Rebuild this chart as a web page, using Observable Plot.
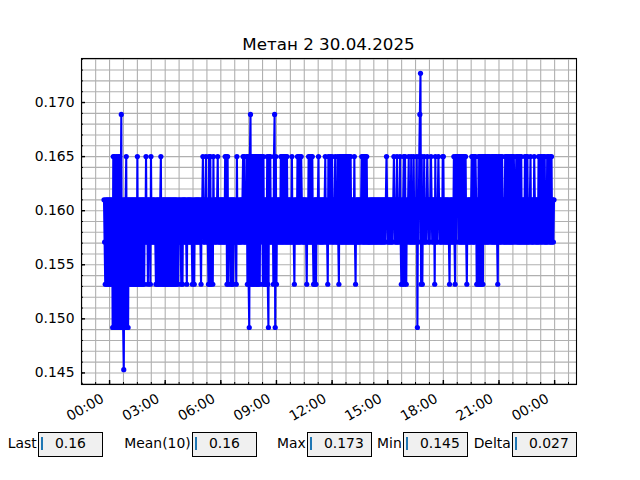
<!DOCTYPE html>
<html>
<head>
<meta charset="utf-8">
<script src="https://cdn.jsdelivr.net/npm/d3@7"></script>
<script src="https://cdn.jsdelivr.net/npm/@observablehq/plot@0.6"></script>
<style>
  body { margin: 0; background: #fff; font-family: "DejaVu Sans", sans-serif; }
  #wrap { position: relative; width: 640px; height: 480px; overflow: hidden; background: #fff; }
  #chart { position: absolute; left: 0; top: 0; }
  .title { position: absolute; left: 81px; width: 495px; top: 36px; text-align: center;
           font-size: 16.7px; line-height: 16.7px; color: #000; white-space: nowrap; }
  .lab { position: absolute; font-size: 13.9px; line-height: 13.9px; color: #000; white-space: nowrap; text-align: right; }
  .box { position: absolute; box-sizing: border-box; width: 65px; height: 25px; top: 432px;
         background: #f0f0f0; border: 1px solid #000; }
  .cur { position: absolute; width: 2px; height: 13px; top: 437px; background: #1f77b4; }
  .val { position: absolute; font-size: 13.9px; line-height: 13.9px; top: 436.5px; color: #000; white-space: nowrap; }
</style>
</head>
<body>
<div id="wrap"><div id="chart"></div></div>
<script>
// ---------------- data ----------------
const chartTitle = "Метан 2 30.04.2025";
// measured value levels (each code digit below indexes this list)
const levels = [0.1453, 0.1492, 0.1532, 0.1571, 0.1610, 0.1650, 0.1689, 0.1727];
const startTime = "2025-04-29T23:42:00Z";   // first sample
const sampleMinutes = 2;                      // sampling interval
// one string per hour, one digit per 2-minute sample (level index)
const hourCodes = [
  "432424242",                       // 23:42–23:58 (previous day)
  "424241515145145151461410414514",  // 00
  "142424242424242524242424242435",  // 01
  "342434253434343242424245242424",  // 02
  "242424242424242424243243432424",  // 03
  "343432434343432432434343434324",  // 04
  "453434534325252432534343453434",  // 05
  "343434353525243424242434325343",  // 06
  "343434535343525215625252525252",  // 07
  "525253542524242521535343425615",  // 08
  "243434353535353535343434353432",  // 09
  "434353535354343434324353535353",  // 10
  "242424345343434343453432534534",  // 11
  "534345343532535353535353535353",  // 12
  "534343532434343434535353535343",  // 13
  "343434343434343434343434343454",  // 14
  "343434343454343534345324245253",  // 15
  "243453435343534345143567252435",  // 16
  "343454343454343425343454343435",  // 17
  "534343434324343435325354535353",  // 18
  "535353532434343453535354242525",  // 19
  "252525353535353543535353535325",  // 20
  "353535434353535353535353543453",  // 21
  "535353534343535353434534343543",  // 22
  "434353453534535343535435353434"   // 23
];
const yTickLabels = ["0.145", "0.150", "0.155", "0.160", "0.165", "0.170"];
const statLabels = ["Last", "Mean(10)", "Max", "Min", "Delta"];
const statValues = ["0.16", "0.16", "0.173", "0.145", "0.027"];

// ---------------- build table ----------------
const t0 = new Date(startTime).getTime();
const codes = hourCodes.join("");
const data = Array.from(codes, (c, i) => ({
  t: new Date(t0 + i * sampleMinutes * 60000),
  v: levels[+c]
}));

// matplotlib-like 5% margins
const [tMin, tMax] = d3.extent(data, d => +d.t);
const [vMin, vMax] = d3.extent(data, d => d.v);
const tPad = (tMax - tMin) * 0.05, vPad = (vMax - vMin) * 0.05;
const xDomain = [new Date(tMin - tPad), new Date(tMax + tPad)];
const yDomain = [vMin - vPad, vMax + vPad];

const yMajor = yTickLabels.map(Number);
const yMinor = d3.ticks(yDomain[0], yDomain[1], 30);
const xMajor = d3.utcHour.every(3).range(xDomain[0], xDomain[1]);
const minorStep = 45 * 60000;
const firstMajor = +xMajor[0];
const xMinor = d3.range(Math.ceil((+xDomain[0] - firstMajor) / minorStep), Math.floor((+xDomain[1] - firstMajor) / minorStep) + 1)
  .map(k => new Date(firstMajor + k * minorStep));

const gridStyle = { stroke: "#b0b0b0", strokeWidth: 1.1, strokeOpacity: 1 };

const plot = Plot.plot({
  width: 640,
  height: 480,
  marginLeft: 81,
  marginRight: 64,
  marginTop: 58,
  marginBottom: 96,
  style: { fontFamily: "DejaVu Sans", fontSize: "13.9px", color: "#000", background: "transparent", overflow: "visible" },
  x: { type: "utc", domain: xDomain, label: null },
  y: { domain: yDomain, label: null },
  marks: [
    Plot.ruleX(xMinor, gridStyle),
    Plot.ruleY(yMinor, gridStyle),
    Plot.line(data, { x: "t", y: "v", stroke: "#0000ff", strokeWidth: 2.1 }),
    Plot.dot(data, { x: "t", y: "v", fill: "#0000ff", stroke: null, r: 2.6 }),
    Plot.frame({ stroke: "#000", strokeWidth: 1.1 }),
    // inward ticks
    Plot.axisY(yMinor, { anchor: "left", tickSize: 2, dx: 2, tickFormat: () => "", stroke: "#000", strokeWidth: 1 }),
    Plot.axisY(yMajor, { anchor: "left", tickSize: 4, dx: 4, tickFormat: () => "", stroke: "#000", strokeWidth: 1.4 }),
    Plot.axisX(xMinor, { anchor: "bottom", tickSize: 2, dy: -2, tickFormat: () => "", stroke: "#000", strokeWidth: 1 }),
    Plot.axisX(xMajor, { anchor: "bottom", tickSize: 4, dy: -4, tickFormat: () => "", stroke: "#000", strokeWidth: 1.4 }),
    // labels
    Plot.axisY(yMajor, { anchor: "left", tickSize: 0, tickPadding: 7, tickFormat: (d, i) => yTickLabels[i], fill: "#000" }),
    Plot.axisX(xMajor, { anchor: "bottom", tickSize: 0, tickPadding: 13, dx: -7, tickRotate: -30,
                         tickFormat: d3.utcFormat("%H:%M"), fill: "#000" })
  ]
});
document.getElementById("chart").appendChild(plot);

// ---------------- title and stat boxes ----------------
const wrap = document.getElementById("wrap");
const titleEl = document.createElement("div");
titleEl.className = "title";
titleEl.textContent = chartTitle;
wrap.appendChild(titleEl);

const boxLeft = [38.3, 192.3, 307.3, 403.3, 512.3];
statLabels.forEach((lab, i) => {
  const L = boxLeft[i];
  const l = document.createElement("div");
  l.className = "lab";
  l.style.right = (640 - (L - 1.6)) + "px";
  l.style.top = "437.2px";
  l.textContent = lab;
  wrap.appendChild(l);
  const b = document.createElement("div");
  b.className = "box";
  b.style.left = L + "px";
  wrap.appendChild(b);
  const c = document.createElement("div");
  c.className = "cur";
  c.style.left = (L + 3) + "px";
  wrap.appendChild(c);
  const v = document.createElement("div");
  v.className = "val";
  v.style.left = (L + 16.7) + "px";
  v.textContent = statValues[i];
  wrap.appendChild(v);
});
</script>
</body>
</html>
